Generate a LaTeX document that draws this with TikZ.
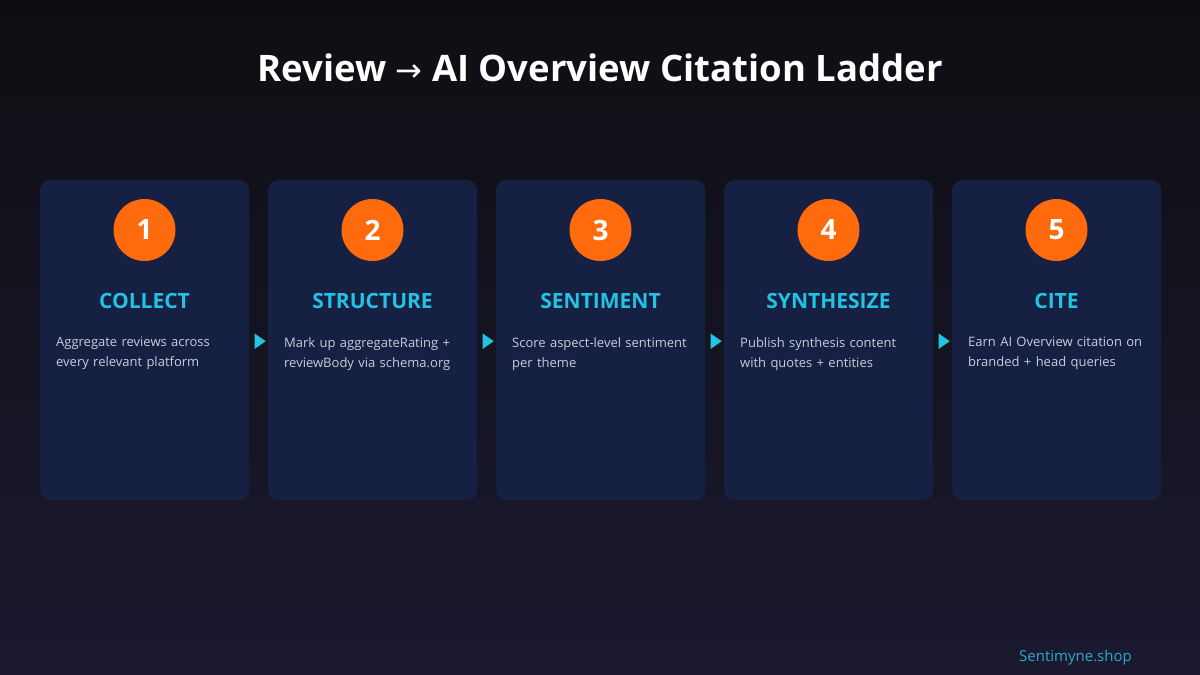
\documentclass[tikz,border=0pt]{standalone}
\usepackage{fontspec}
\setmainfont{Open Sans}
\newfontfamily\symfont{DejaVu Sans}
\usetikzlibrary{shapes.geometric,calc}
\definecolor{bgtop}{HTML}{0E0E12}
\definecolor{bgbot}{HTML}{1B1930}
\definecolor{card}{HTML}{152042}
\definecolor{orng}{HTML}{FF6A0C}
\definecolor{cyan1}{HTML}{22C3E3}
\definecolor{bodyc}{HTML}{C9CDD9}
\definecolor{foot}{HTML}{2BA9CC}
\tikzset{
  cardbox/.style={fill=card, rounded corners=10pt, minimum width=209pt, minimum height=320pt, anchor=north west, inner sep=0pt},
  numc/.style={circle, fill=orng, minimum size=62pt, inner sep=0pt, text=white, font=\fontsize{28}{30}\selectfont\bfseries},
  head/.style={text=cyan1, font=\fontsize{21}{24}\selectfont\bfseries},
  body/.style={text=bodyc, font=\fontsize{13}{20}\selectfont, align=left, anchor=north west, inner sep=0pt, text width=190pt},
  tri/.style={isosceles triangle, isosceles triangle apex angle=70, fill=cyan1, minimum height=11pt, minimum width=14pt, inner sep=0pt, shape border rotate=0},
}
\begin{document}
\begin{tikzpicture}[x=1pt,y=-1pt]
\shade[top color=bgtop, bottom color=bgbot] (0,0) rectangle (1200,675);
\useasboundingbox (0,0) rectangle (1200,675);
\node[text=white, font=\fontsize{36.5}{40}\selectfont\bfseries] (title) at (600,68) {Review {\symfont\mdseries\fontsize{32}{32}\selectfont →} AI Overview Citation Ladder};
\foreach \i/\n/\h/\a/\b in {
 0/1/COLLECT/Aggregate reviews across/every relevant platform,
 1/2/STRUCTURE/Mark up aggregateRating +/reviewBody via schema.org,
 2/3/SENTIMENT/Score aspect-level sentiment/per theme,
 3/4/SYNTHESIZE/Publish synthesis content/with quotes + entities,
 4/5/CITE/Earn AI Overview citation on/branded + head queries}{
  \pgfmathsetmacro{\xx}{40+228*\i}
  \node[cardbox] (card\n) at (\xx,180) {};
  \node[numc] (num\n) at (\xx+104.5,230) {\n};
  \node[head] (head\n) at (\xx+104.5,301) {\h};
  \node[body] (body\n) at (\xx+16,337) {\a\\\b};
}
\foreach \n/\m in {1/2,2/3,3/4,4/5}{
  \node[tri] (arr\n) at ($ (card\n.east)!0.5!(card\m.west) + (0,1) $) {};
}
\node[text=foot, font=\fontsize{15}{18}\selectfont] (footer) at (1075.5,658) {Sentimyne.shop};
\end{tikzpicture}
\end{document}
